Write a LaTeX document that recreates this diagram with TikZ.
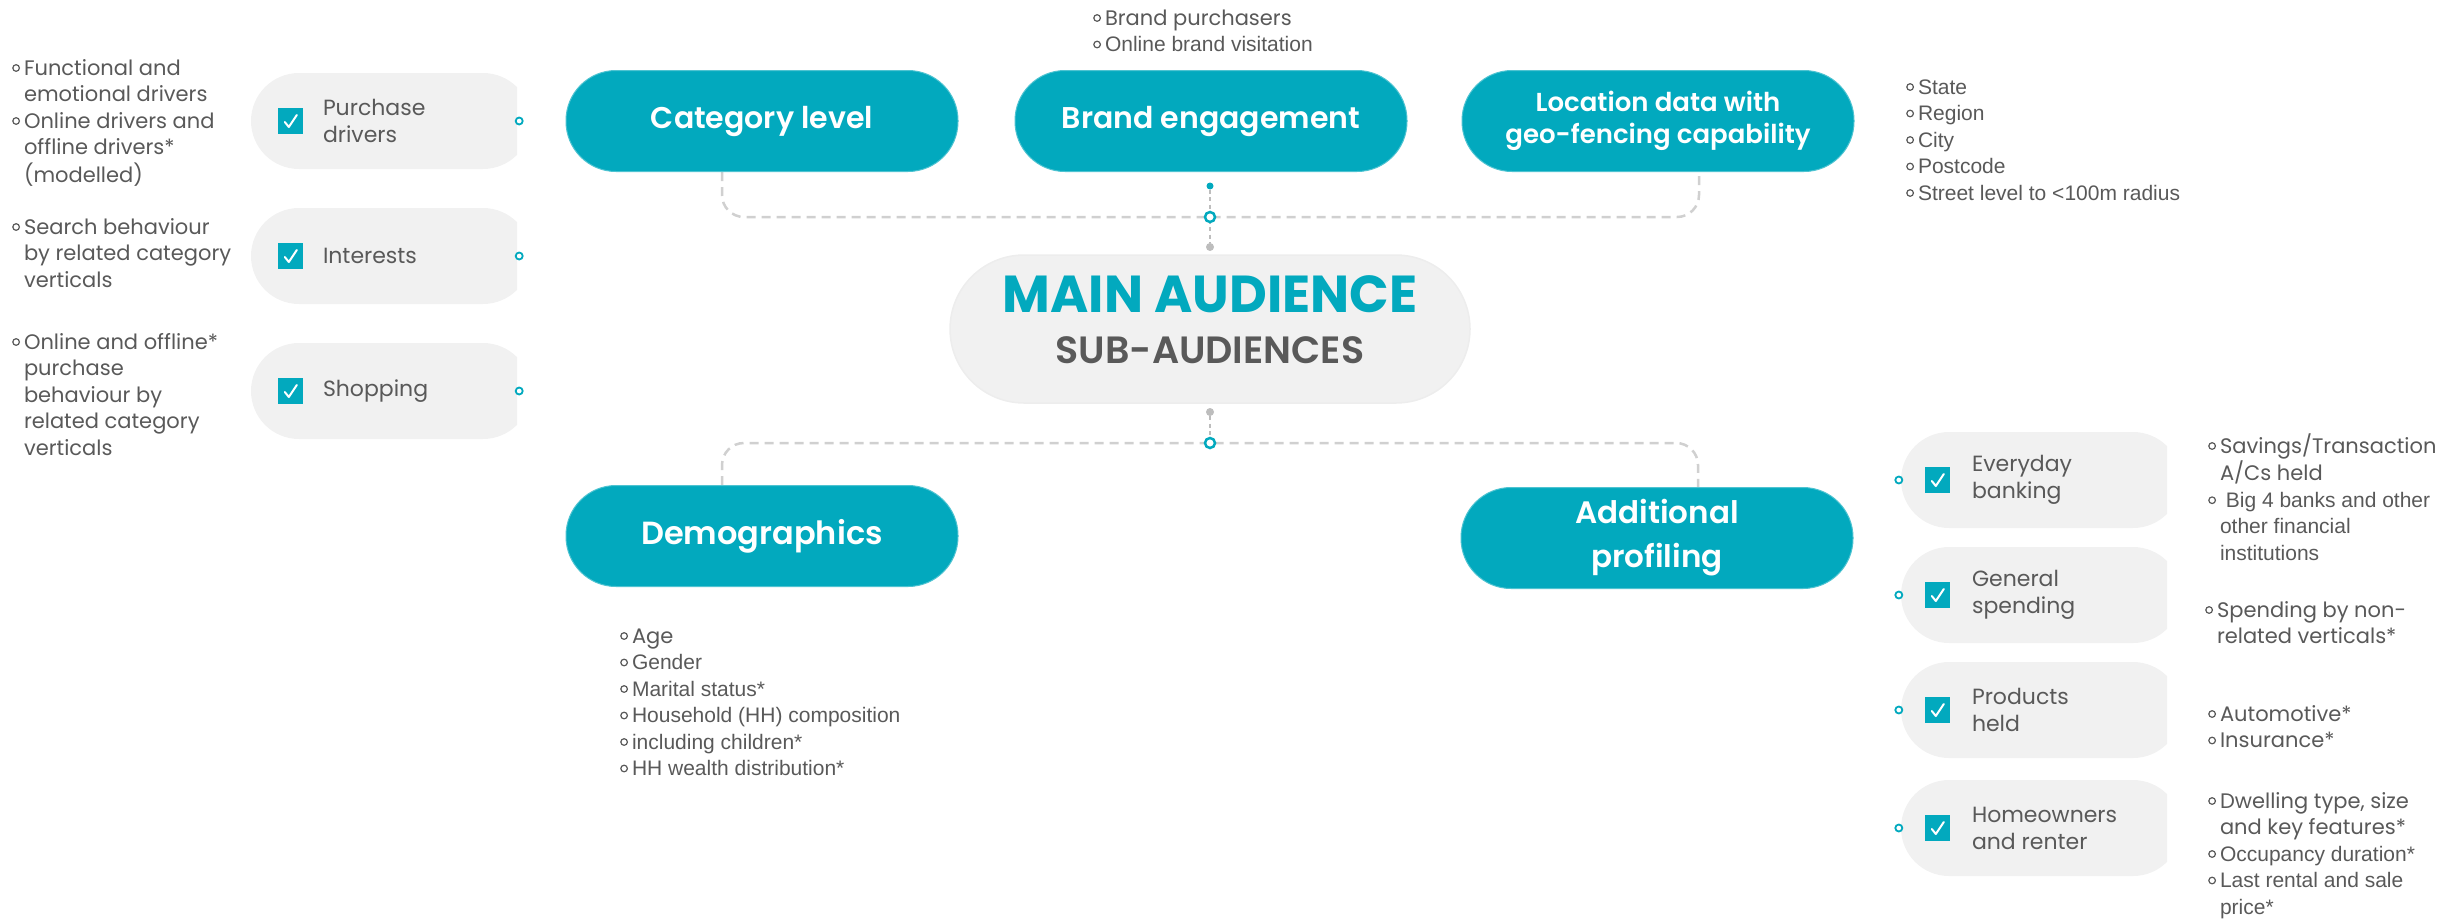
\documentclass[tikz,border=0pt]{standalone}
\usepackage{fontspec}
\setmainfont{Poppins}
\newfontfamily\arialfont{Liberation Sans}
\newfontfamily\semibold{Poppins SemiBold}
\newfontfamily\heavy{Poppins Bold}
\usetikzlibrary{backgrounds}

\definecolor{brandteal}{RGB}{2,169,190}
\definecolor{pillgrey}{HTML}{F1F1F1}
\definecolor{textgrey}{HTML}{595959}
\definecolor{dashgrey}{HTML}{D0D0D0}
\definecolor{dotgrey}{HTML}{BDBDBD}

% small hollow bullet for the note lists
\newcommand{\bul}{\tikz[baseline=0pt]\draw[textgrey, line width=1.2pt] (0pt,7pt) circle[radius=3.3pt];}

\begin{document}
\begin{tikzpicture}[
    x=1pt, y=-1pt,
    hub/.style={rectangle, rounded corners=50pt, fill=brandteal, draw=brandteal!70!white,
                line width=1pt, minimum width=392pt, minimum height=101pt,
                text=white, align=center, font=\semibold\fontsize{30}{36}\selectfont},
    tag/.style={rectangle, inner sep=0pt, minimum width=266pt, minimum height=96pt,
                path picture={\fill[pillgrey, rounded corners=48pt]
                  (path picture bounding box.north west) rectangle
                  ([xshift=14pt]path picture bounding box.south east);}},
    tick/.style={rectangle, fill=brandteal, inner sep=0pt, minimum width=25pt, minimum height=26pt,
                 path picture={\draw[white, line width=2pt, line cap=round, line join=round]
                   ([xshift=-6pt, yshift=-1pt]path picture bounding box.center)
                   -- ++(4pt,-5pt) -- ++(8pt,12pt);}},
    taglabel/.style={anchor=west, inner sep=0pt, align=left, text=textgrey,
                     font=\fontsize{22}{27}\selectfont},
    note/.style={anchor=base west, inner sep=0pt, text=textgrey,
                 font=\fontsize{21}{26.5}\selectfont},
    port/.style={circle, draw=brandteal, fill=white, line width=1.8pt, inner sep=0pt, minimum size=7pt},
    joint/.style={circle, draw=brandteal, fill=white, line width=2.5pt, inner sep=0pt, minimum size=10pt},
    tealdot/.style={circle, fill=brandteal, inner sep=0pt, minimum size=7pt},
    greydot/.style={circle, fill=dotgrey, inner sep=0pt, minimum size=8pt},
    link/.style={draw=dashgrey, line width=2.5pt, dash pattern=on 9pt off 6pt, rounded corners=22pt},
    stub/.style={draw=dotgrey, line width=1.5pt, dash pattern=on 4pt off 3.5pt}
]
    \useasboundingbox (0,0) rectangle (2448,919);

    % centre
    \node[rectangle, rounded corners=74pt, fill=pillgrey, draw=black!7, line width=1.5pt,
          minimum width=520pt, minimum height=148pt] (main) at (1210,329) {};
    \node[text=brandteal, font=\heavy\fontsize{52}{60}\selectfont] (mainTitle) at (1210,294) {MAIN AUDIENCE};
    \node[text=textgrey, font=\semibold\fontsize{38}{44}\selectfont] (mainSub) at (1210,350) {SUB-AUDIENCES};

    % top row
    \node[hub] (cat) at (762,121) {Category level};
    \node[hub] (brand) at (1211,121) {Brand engagement};
    \node[hub, font=\semibold\fontsize{26}{32}\selectfont] (loc) at (1658,121) {Location data with\\geo-fencing capability};

    % bottom row
    \node[hub, font=\semibold\fontsize{32}{38}\selectfont] (demo) at (762,536) {Demographics};
    \node[hub, font=\semibold\fontsize{31}{44}\selectfont] (addl) at (1657,538) {Additional\\profiling};

    % joints
    \node[tealdot] (brandDot) at (1210,186) {};
    \node[joint] (topJoin) at (1210,217) {};
    \node[greydot] (mainTopDot) at (1210,247) {};
    \node[greydot] (mainBotDot) at (1210,412) {};
    \node[joint] (botJoin) at (1210,443) {};

    \begin{scope}[on background layer]
        \draw[link] ([xshift=-40pt]cat.south) |- (topJoin.center) -| ([xshift=41pt]loc.south);
        \draw[link] ([xshift=-40pt]demo.north) |- (botJoin.center) -| ([xshift=41pt]addl.north);
        \draw[stub] (brandDot) -- (mainTopDot);
        \draw[stub] (mainBotDot) -- (botJoin);
    \end{scope}

    % category tags
    \node[tag] (purch) at (384,121) {};
    \node[tick] (purchBox) at ([xshift=40pt]purch.west) {};
    \node[taglabel] (purchLbl) at ([xshift=72pt]purch.west) {Purchase\\drivers};
    \node[port] (purchPort) at ([xshift=2pt]purch.east) {};

    \node[tag] (inter) at (384,256) {};
    \node[tick] (interBox) at ([xshift=40pt]inter.west) {};
    \node[taglabel] (interLbl) at ([xshift=72pt]inter.west) {Interests};
    \node[port] (interPort) at ([xshift=2pt]inter.east) {};

    \node[tag] (shop) at (384,391) {};
    \node[tick] (shopBox) at ([xshift=40pt]shop.west) {};
    \node[taglabel] (shopLbl) at ([xshift=72pt]shop.west) {Shopping};
    \node[port] (shopPort) at ([xshift=2pt]shop.east) {};

    % profiling tags
    \node[tag] (banking) at (2034,480) {};
    \node[tick] (bankingBox) at ([xshift=37pt]banking.west) {};
    \node[taglabel] (bankingLbl) at ([xshift=71pt]banking.west) {Everyday\\banking};
    \node[port] (bankingPort) at ([xshift=-2pt]banking.west) {};

    \node[tag] (spend) at (2034,595) {};
    \node[tick] (spendBox) at ([xshift=37pt]spend.west) {};
    \node[taglabel] (spendLbl) at ([xshift=71pt]spend.west) {General\\spending};
    \node[port] (spendPort) at ([xshift=-2pt]spend.west) {};

    \node[tag] (held) at (2034,710) {};
    \node[tick] (heldBox) at ([xshift=37pt]held.west) {};
    \node[taglabel] (heldLbl) at ([xshift=71pt]held.west) {Products\\held};
    \node[port] (heldPort) at ([xshift=-2pt]held.west) {};

    \node[tag] (homes) at (2034,828) {};
    \node[tick] (homesBox) at ([xshift=37pt]homes.west) {};
    \node[taglabel] (homesLbl) at ([xshift=71pt]homes.west) {Homeowners\\and renter};
    \node[port] (homesPort) at ([xshift=-2pt]homes.west) {};

    % notes
    \node[note] (purchNotes) at (12,75) {\begin{tabular}[t]{@{}l@{\hspace{4pt}}l@{}}
        \bul & Functional and\\
             & emotional drivers\\
        \bul & Online drivers and\\
             & offline drivers*\\
             & (modelled)
    \end{tabular}};
    \node[note] (interNotes) at (12,234) {\begin{tabular}[t]{@{}l@{\hspace{4pt}}l@{}}
        \bul & Search behaviour\\
             & by related category\\
             & verticals
    \end{tabular}};
    \node[note] (shopNotes) at (12,349) {\begin{tabular}[t]{@{}l@{\hspace{4pt}}l@{}}
        \bul & Online and offline*\\
             & purchase\\
             & behaviour by\\
             & related category\\
             & verticals
    \end{tabular}};
    \node[note] (brandNotes) at (1093,25) {\begin{tabular}[t]{@{}l@{\hspace{4pt}}l@{}}
        \bul & Brand purchasers\\
        \bul & \arialfont Online brand visitation
    \end{tabular}};
    \node[note, font=\arialfont\fontsize{21}{26.5}\selectfont] (locNotes) at (1906,94) {\begin{tabular}[t]{@{}l@{\hspace{4pt}}l@{}}
        \bul & State\\
        \bul & Region\\
        \bul & City\\
        \bul & Postcode\\
        \bul & Street level to <100m radius
    \end{tabular}};
    \node[note] (demoNotes) at (620,643) {\begin{tabular}[t]{@{}l@{\hspace{4pt}}l@{}}
        \bul & Age\\
        \bul & \arialfont Gender\\
        \bul & \arialfont Marital status*\\
        \bul & \arialfont Household (HH) composition\\
        \bul & \arialfont including children*\\
        \bul & \arialfont HH wealth distribution*
    \end{tabular}};
    \node[note] (bankingNotes) at (2208,453) {\begin{tabular}[t]{@{}l@{\hspace{4pt}}l@{}}
        \bul & Savings/Transaction\\
             & A/Cs held\\
        \bul & \arialfont\ Big 4 banks and other\\
             & \arialfont other financial\\
             & \arialfont institutions
    \end{tabular}};
    \node[note] (spendNotes) at (2205,617) {\begin{tabular}[t]{@{}l@{\hspace{4pt}}l@{}}
        \bul & Spending by non-\\
             & related verticals*
    \end{tabular}};
    \node[note] (heldNotes) at (2208,721) {\begin{tabular}[t]{@{}l@{\hspace{4pt}}l@{}}
        \bul & Automotive*\\
        \bul & Insurance*
    \end{tabular}};
    \node[note] (homesNotes) at (2208,808) {\begin{tabular}[t]{@{}l@{\hspace{4pt}}l@{}}
        \bul & Dwelling type, size\\
             & and key features*\\
        \bul & \arialfont Occupancy duration*\\
        \bul & \arialfont Last rental and sale\\
             & \arialfont price*
    \end{tabular}};
\end{tikzpicture}
\end{document}
